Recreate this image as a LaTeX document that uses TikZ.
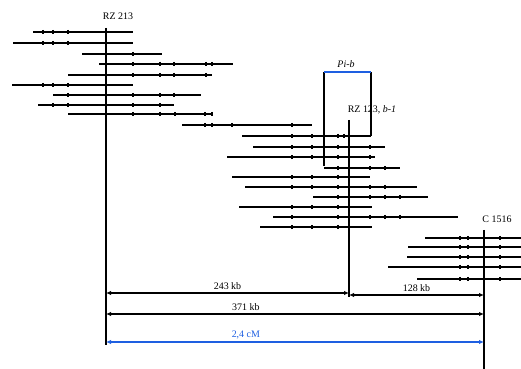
\documentclass[tikz,border=0pt]{standalone}
\usepackage{fontspec}
\setmainfont{Liberation Serif}
\usetikzlibrary{arrows.meta}
\definecolor{mapblue}{RGB}{30,95,225}
\tikzset{
  clone/.style={line width=1.7pt},
  tck/.style={line width=1pt},
  vline/.style={line width=1.7pt},
  dim/.style={line width=1.6pt, {Latex[length=1.5mm,width=1.3mm]}-{Latex[length=1.5mm,width=1.3mm]}},
  lbl/.style={font=\fontsize{8.5}{9}\selectfont, inner sep=1pt},
}
\newcommand{\clone}[4]{\draw[clone] (#2,#1) -- (#3,#1);
  \foreach \t in {#4} \draw[tck] (\t,#1-2) -- (\t,#1+2);}
\def\xA{106}
\def\xB{349}
\def\xC{484}

\begin{document}
\begin{tikzpicture}[x=0.03cm, y=-0.03cm]
\useasboundingbox (0,0) rectangle (521,369);

% markers
\node[lbl] (rz213) at (118,16) {RZ 213};
\node[lbl] (pib) at (346,64) {\textit{Pi-b}};
\node[lbl] (rz123) at (372,110) {RZ 123, \textit{b-1}};
\node[lbl] (c1516) at (497,219) {C 1516};

\draw[vline] (\xA,28) coordinate (a1) -- (\xA,345) coordinate (a2);
\draw[vline] (\xB,120) coordinate (b1) -- (\xB,297) coordinate (b2);
\draw[vline] (\xC,230) coordinate (c1) -- (\xC,369) coordinate (c2);

% clones
\clone{32}{33}{133}{43,53,68}
\clone{43}{13}{133}{43,53,68}
\clone{54}{82}{162}{133}
\clone{64}{99}{233}{133,160,174,206,212}
\clone{75}{68}{212}{133,160,174,206}
\clone{85}{12}{133}{43,53,68}
\clone{95}{53}{201}{68,133,160,174}
\clone{105}{38}{174}{53,68,133,160}
\clone{114}{68}{212}{133,160,175,205,212}
\clone{125}{182}{312}{205,212,232,292}
\clone{136}{242}{371}{292,312,338,344}
\clone{147}{253}{385}{292,312,338,370}
\clone{157}{227}{375}{292,312,338,370}
\clone{168}{324}{400}{338,370,385}
\clone{177}{232}{370}{292,312,338}
\clone{187}{245}{417}{292,312,338,370,385}
\clone{197}{313}{428}{338,370,385,400}
\clone{207}{239}{372}{292,312,338}
\clone{217}{273}{458}{292,338,370,385,400}
\clone{227}{260}{372}{292,312,338}
\clone{238}{425}{521}{460,468,500}
\clone{247}{408}{521}{460,468,500}
\clone{257}{407}{521}{460,468,500}
\clone{267}{388}{521}{460,468,500}
\clone{279}{417}{521}{460,468,500}

% Pi-b interval
\draw[vline] (324,166) -- (324,72) coordinate (p1);
\draw[vline] (371,136) -- (371,72) coordinate (p2);
\draw[line width=1.8pt, mapblue] (p1) -- (p2);

% distances
\draw[dim] (a1 |- 0,293) -- (b1 |- 0,293) node[lbl, midway, above=1pt] (d1) {243 kb};
\draw[dim] (b1 |- 0,295) -- (c1 |- 0,295) node[lbl, midway, above=1pt] (d2) {128 kb};
\draw[dim] (a1 |- 0,314) -- (c1 |- 0,314) node[lbl, pos=0.37, above=1pt] (d3) {371 kb};
\draw[dim, mapblue] (a1 |- 0,342) -- (c1 |- 0,342) node[lbl, pos=0.37, above=1pt] (d4) {2,4 cM};

\end{tikzpicture}
\end{document}
